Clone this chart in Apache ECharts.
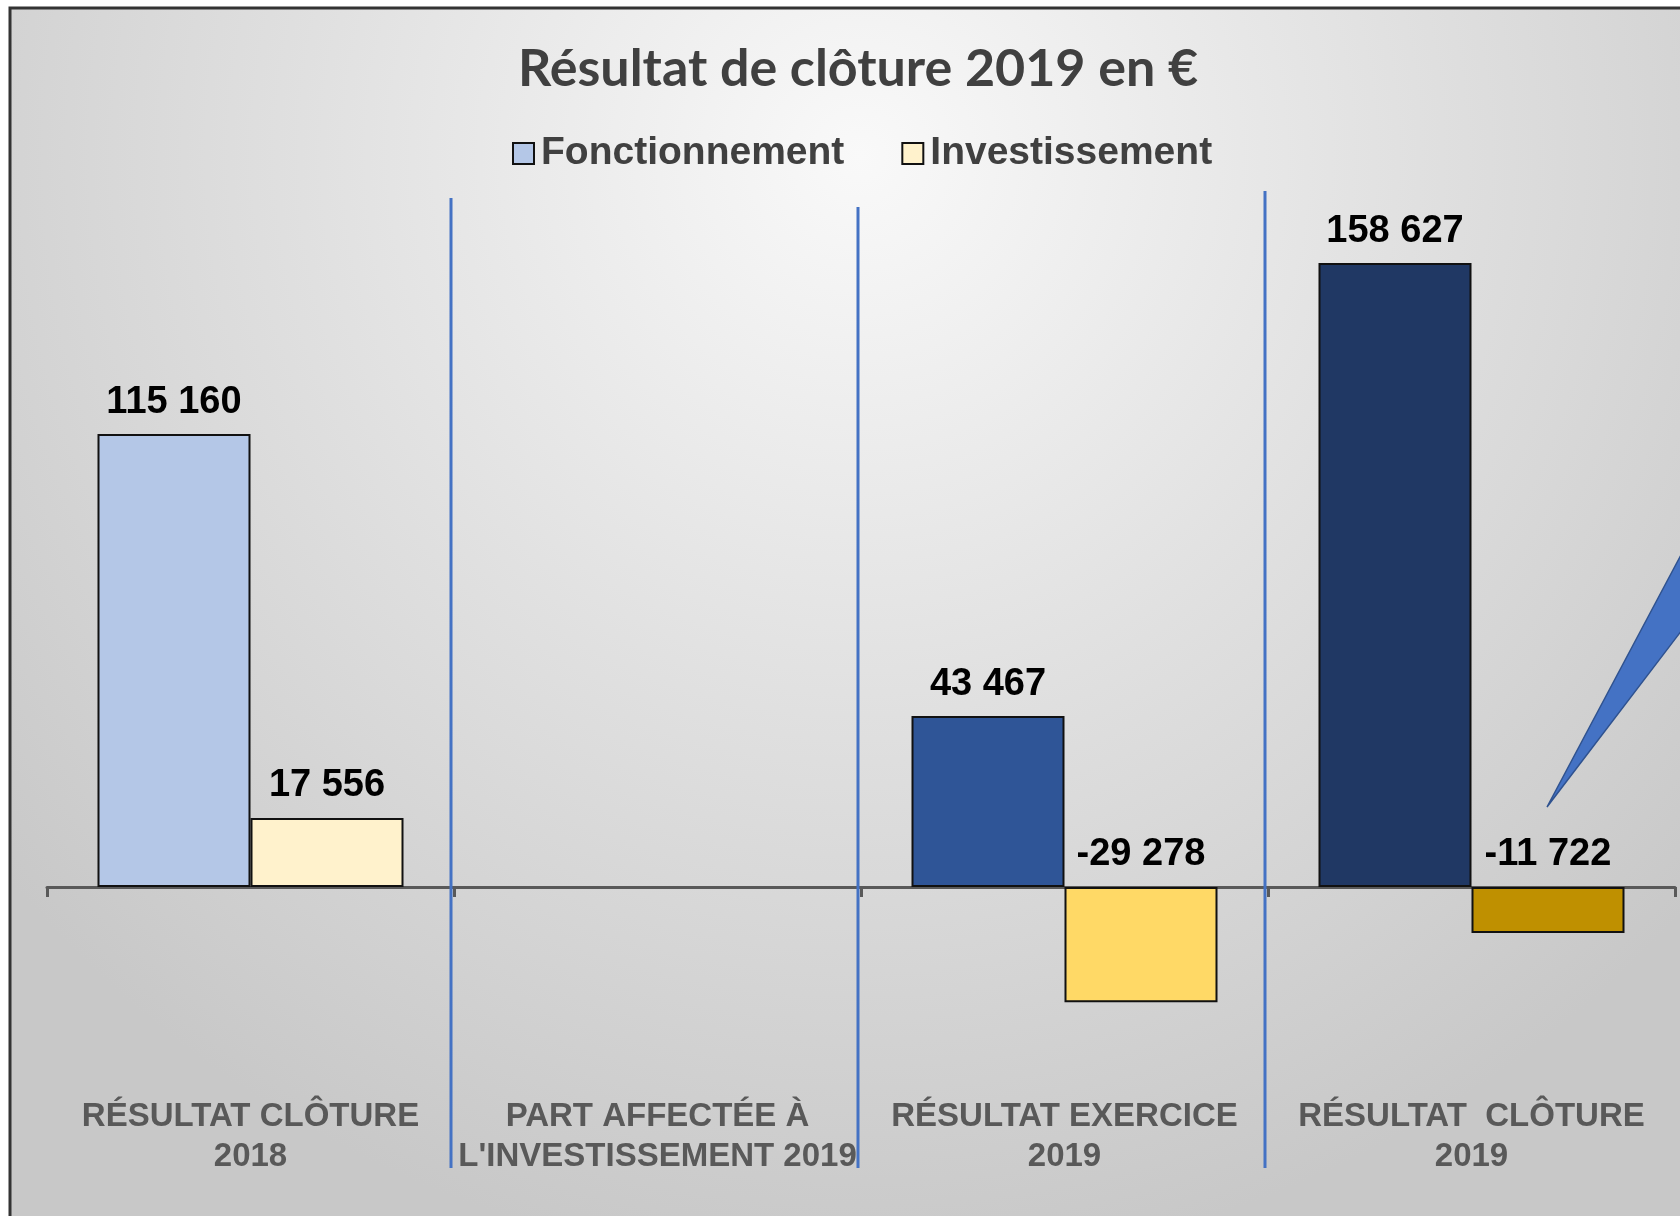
<!DOCTYPE html>
<html>
<head>
<meta charset="utf-8">
<script src="https://cdn.jsdelivr.net/npm/echarts@6/dist/echarts.min.js"></script>
<style>
  html, body { margin: 0; padding: 0; background: #fff; }
  #chart { width: 1680px; height: 1216px; }
</style>
</head>
<body>
<div id="chart"></div>
<script>
// data
const categories = ['RÉSULTAT CLÔTURE\n2018', "PART AFFECTÉE À\nL'INVESTISSEMENT 2019", 'RÉSULTAT EXERCICE\n2019', 'RÉSULTAT  CLÔTURE\n2019'];
const fonctionnement = [115160, null, 43467, 158627];
const investissement = [17556, null, -29278, -11722];

// colours per category (Excel used a different shade for each group)
const fonctColors = ['#B4C7E7', '#B4C7E7', '#2F5597', '#203864'];
const investColors = ['#FFF2CC', '#FFF2CC', '#FFD966', '#BF9000'];
const dividerTops = [198, 207, 191];

function fmt(v) {
  return String(v).replace(/\B(?=(\d{3})+(?!\d))/g, ' ');
}

function barData(values, colors) {
  return values.map((v, i) => ({value: v, itemStyle: {color: colors[i]}}));
}

const chart = echarts.init(document.getElementById('chart'));

const labelStyle = {
  show: true,
  position: 'top',
  distance: 13,
  fontFamily: 'Liberation Sans, Arial, sans-serif',
  fontWeight: 'bold',
  fontSize: 38,
  color: '#000',
  formatter: p => (p.value == null ? '' : fmt(p.value))
};

let option = {
  animation: false,
  title: {
    text: 'Résultat de clôture 2019 en €',
    left: 513,
    top: 38,
    textStyle: {
      fontFamily: 'Lato, sans-serif',
      fontWeight: 'bold',
      fontSize: 52,
      color: '#404040'
    }
  },
  legend: {
    left: 507,
    top: 129,
    itemWidth: 21,
    itemHeight: 21,
    itemGap: 57,
    icon: 'rect',
    textStyle: {
      fontFamily: 'Liberation Sans, Arial, sans-serif',
      fontWeight: 'bold',
      fontSize: 39,
      color: '#404040',
      padding: [0, 0, 0, 2]
    },
    data: ['Fonctionnement', 'Investissement']
  },
  grid: {left: 47, right: 5, top: 179, bottom: 132.33, outerBoundsMode: 'none', containLabel: false},
  xAxis: {
    type: 'category',
    data: categories,
    axisLine: {onZero: true, lineStyle: {color: '#595959', width: 3}},
    axisTick: {show: true, length: 10, lineStyle: {color: '#595959', width: 3}},
    axisLabel: {
      margin: 13,
      interval: 0,
      fontFamily: 'Liberation Sans, Arial, sans-serif',
      fontWeight: 'bold',
      fontSize: 33,
      lineHeight: 40,
      color: '#595959'
    },
    splitLine: {show: false}
  },
  yAxis: {
    type: 'value',
    min: -50000,
    max: 180000,
    show: false,
    splitLine: {show: false}
  },
  series: [
    {
      name: 'Fonctionnement',
      type: 'bar',
      barWidth: 153,
      barGap: '0%',
      itemStyle: {color: '#B4C7E7', borderColor: '#111', borderWidth: 2},
      label: labelStyle,
      data: barData(fonctionnement, fonctColors)
    },
    {
      name: 'Investissement',
      type: 'bar',
      barWidth: 153,
      itemStyle: {color: '#FFF2CC', borderColor: '#111', borderWidth: 2},
      label: labelStyle,
      data: barData(investissement, investColors)
    }
  ]
};
chart.setOption(option);

// background, frame, divider lines and the callout pointer
const graphics = [
  {
    type: 'rect',
    z: -100,
    silent: true,
    shape: {x: 10, y: 8, width: 1700, height: 1240},
    style: {
      fill: new echarts.graphic.RadialGradient(0.5, 0.12, 0.9, [
        {offset: 0, color: '#f9f9f9'},
        {offset: 0.5, color: '#e0e0e0'},
        {offset: 1, color: '#c8c8c8'}
      ]),
      stroke: '#333',
      lineWidth: 3
    }
  }
];
for (let i = 0; i < categories.length - 1; i++) {
  const a = chart.convertToPixel({xAxisIndex: 0}, i);
  const b = chart.convertToPixel({xAxisIndex: 0}, i + 1);
  const x = (a + b) / 2 - 3;
  graphics.push({
    type: 'line',
    z: 50,
    silent: true,
    shape: {x1: x, y1: dividerTops[i], x2: x, y2: 1168},
    style: {stroke: '#4472C4', lineWidth: 3}
  });
}
graphics.push({
  type: 'polygon',
  z: 50,
  silent: true,
  shape: {points: [[1547, 807], [1682, 553], [1682, 630]]},
  style: {fill: '#4472C4', stroke: '#2F528F', lineWidth: 1.5}
});
chart.setOption({graphic: graphics});
</script>
</body>
</html>
